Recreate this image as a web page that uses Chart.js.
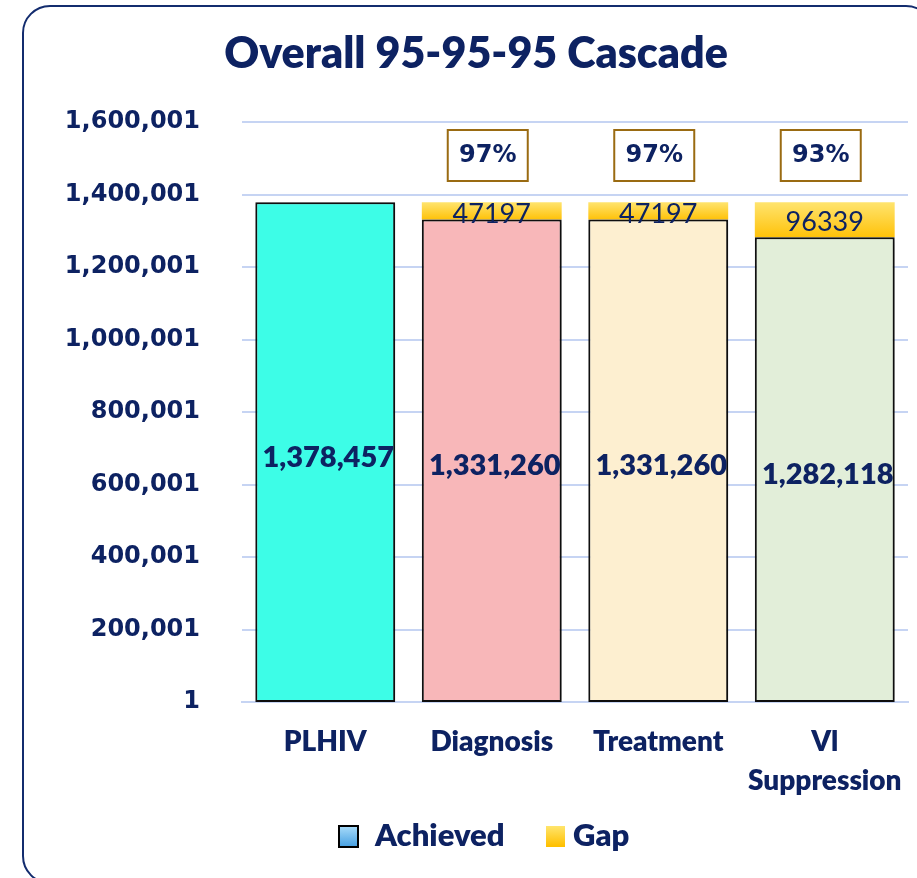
<!DOCTYPE html>
<html>
<head>
<meta charset="utf-8">
<script src="https://cdn.jsdelivr.net/npm/chart.js@4.4.1/dist/chart.umd.min.js"></script>
<style>
  html, body { margin: 0; padding: 0; background: #fff; overflow: hidden; }
  body { width: 917px; height: 878px; position: relative; }
  .frame {
    position: absolute; left: 22px; top: 5px; width: 912px; height: 879px;
    border: 2px solid #132c6e; border-radius: 28px; box-sizing: border-box;
  }
  #chart { position: absolute; left: 0; top: 0; }
</style>
</head>
<body>
<div class="frame"></div>
<canvas id="chart" width="917" height="878"></canvas>
<script>
const categories = ["PLHIV", "Diagnosis", "Treatment", ["Vl", "Suppression"]];
const achieved = [1378457, 1331260, 1331260, 1282118];
const gap = [0, 47197, 47197, 96339];
const pctLabels = ["", "97%", "97%", "93%"];
const yTicks = [1, 200001, 400001, 600001, 800001, 1000001, 1200001, 1400001, 1600001];
const barColors = ["#3dfde7", "#f8b7b9", "#fdefd0", "#e2eed9"];

const navy = "#0d2262";
// Calibri-like text and Verdana-like text
const font = "Lato, 'Open Sans', sans-serif";
const wide = "'DejaVu Sans', sans-serif";

function gapFill(c) {
    const chart = c.chart;
    const y = chart.scales.y;
    if (!chart.chartArea || !y) return "#ffd43b";
    const i = c.dataIndex;
    const top = y.getPixelForValue(achieved[i] + gap[i]);
    const bot = y.getPixelForValue(achieved[i]);
    const g = chart.ctx.createLinearGradient(0, top, 0, bot + 0.01);
    g.addColorStop(0, "#ffe46e");
    g.addColorStop(1, "#ffc20a");
    return g;
}

const extras = {
    id: "extras",
    beforeDatasetDraw(chart, args) {
        if (args.index !== 0) return;
        const ctx = chart.ctx;
        ctx.save();
        ctx.shadowColor = "rgba(0,0,0,0.35)";
        ctx.shadowBlur = 6;
        ctx.shadowOffsetX = 2;
        ctx.shadowOffsetY = 1;
    },
    afterDatasetDraw(chart, args) {
        if (args.index === 0) chart.ctx.restore();
    },
    afterDraw(chart) {
        const ctx = chart.ctx;
        const a = chart.getDatasetMeta(0).data;
        const g = chart.getDatasetMeta(1).data;
        ctx.save();
        ctx.fillStyle = navy;
        ctx.textAlign = "center";

        // title
        ctx.textBaseline = "alphabetic";
        ctx.font = "800 43px " + font;
        ctx.fillText("Overall 95-95-95 Cascade", 476, 68);

        // value labels
        ctx.textBaseline = "middle";
        a.forEach((bar, i) => {
            ctx.font = "800 29px " + font;
            ctx.fillText(achieved[i].toLocaleString("en-US"), bar.x + 3, (bar.y + bar.base) / 2 + 5);
            if (gap[i] > 0) {
                const gb = g[i];
                ctx.font = "27px " + font;
                ctx.fillText(String(gap[i]), gb.x, (gb.y + gb.base) / 2 + 3);
            }
            if (pctLabels[i]) {
                const cx = bar.x - 4;
                ctx.fillStyle = "#fff";
                ctx.fillRect(cx - 40, 130, 80, 51);
                ctx.strokeStyle = "#9a6b12";
                ctx.lineWidth = 2;
                ctx.strokeRect(cx - 40, 130, 80, 51);
                ctx.fillStyle = navy;
                ctx.font = "bold 24px " + wide;
                ctx.fillText(pctLabels[i], cx, 156);
            }
        });

        // legend
        const ly = 836;
        let lg = ctx.createLinearGradient(0, ly - 10, 0, ly + 10);
        lg.addColorStop(0, "#a9dcfa");
        lg.addColorStop(1, "#4aa2e2");
        ctx.fillStyle = lg;
        ctx.fillRect(339, ly - 10, 19, 21);
        ctx.strokeStyle = "#000";
        ctx.lineWidth = 2;
        ctx.strokeRect(339, ly - 10, 19, 21);
        lg = ctx.createLinearGradient(0, ly - 10, 0, ly + 10);
        lg.addColorStop(0, "#ffe56d");
        lg.addColorStop(1, "#ffc000");
        ctx.fillStyle = lg;
        ctx.fillRect(546, ly - 10, 19, 21);
        ctx.fillStyle = navy;
        ctx.textAlign = "left";
        ctx.font = "800 31px " + font;
        ctx.fillText("Achieved", 375, ly);
        ctx.fillText("Gap", 573, ly);
        ctx.restore();
    }
};

new Chart(document.getElementById("chart"), {
    type: "bar",
    data: {
        labels: categories,
        datasets: [
            {
                label: "Achieved",
                data: achieved,
                backgroundColor: barColors,
                borderColor: "#111",
                borderWidth: 2,
                borderSkipped: false
            },
            {
                label: "Gap",
                data: gap,
                backgroundColor: gapFill,
                borderWidth: 0
            }
        ]
    },
    options: {
        responsive: false,
        animation: false,
        barPercentage: 0.84,
        categoryPercentage: 1,
        layout: { padding: { top: 122, right: 9, bottom: 0, left: 0 } },
        plugins: {
            legend: { display: false },
            title: { display: false },
            tooltip: { enabled: false }
        },
        scales: {
            x: {
                stacked: true,
                grid: { display: false, drawTicks: false },
                border: { color: "#c6d4f3", width: 2 },
                ticks: {
                    color: navy,
                    padding: 21,
                    font: { family: font, size: 28, weight: 800, lineHeight: 1.39 }
                },
                afterFit(scale) {
                    scale.height = 176;
                    scale.paddingLeft = 0;
                    scale.paddingRight = 0;
                }
            },
            y: {
                stacked: true,
                min: 1,
                max: 1600001,
                grid: { color: "#c6d4f3", lineWidth: 2, drawTicks: false },
                border: { display: false },
                ticks: {
                    color: navy,
                    padding: 42,
                    font: { family: wide, size: 24, weight: "bold" },
                    callback: (v) => Number(v).toLocaleString("en-US")
                },
                afterBuildTicks(scale) {
                    scale.ticks = yTicks.map((v) => ({ value: v }));
                },
                afterFit(scale) { scale.width = 242; }
            }
        }
    },
    plugins: [extras]
});
</script>
</body>
</html>
